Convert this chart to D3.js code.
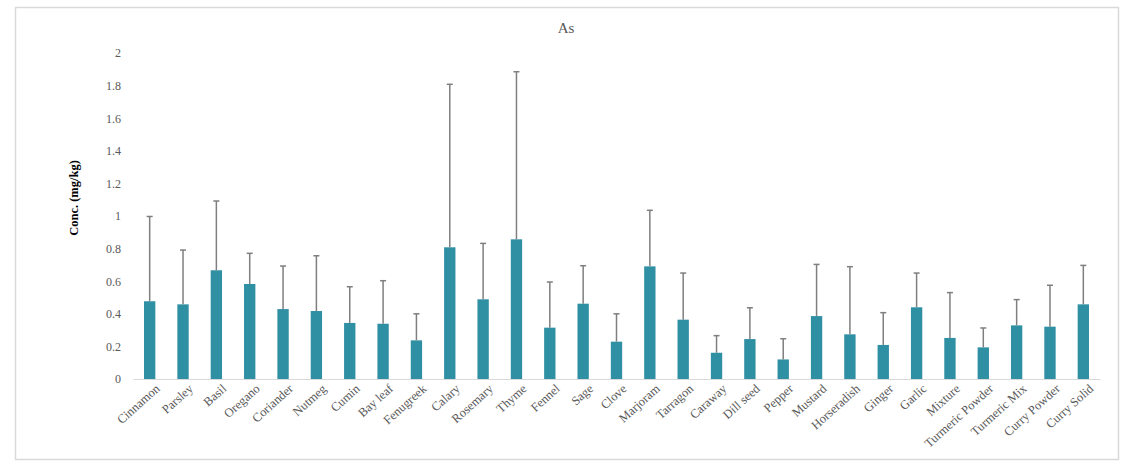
<!DOCTYPE html>
<html>
<head>
<meta charset="utf-8">
<script src="https://cdn.jsdelivr.net/npm/d3@7"></script>
<style>
  body { margin: 0; background: #fff; }
  svg { display: block; }
</style>
</head>
<body>
<div id="chart"></div>
<script>
const spices = ['Cinnamon', 'Parsley', 'Basil', 'Oregano', 'Coriander', 'Nutmeg', 'Cumin', 'Bay leaf',
  'Fenugreek', 'Calary', 'Rosemary', 'Thyme', 'Fennel', 'Sage', 'Clove', 'Marjoram', 'Tarragon',
  'Caraway', 'Dill seed', 'Pepper', 'Mustard', 'Horseradish', 'Ginger', 'Garlic', 'Mixture',
  'Turmeric Powder', 'Turmeric Mix', 'Curry Powder', 'Curry Solid'];
const means = [0.477, 0.458, 0.667, 0.583, 0.429, 0.417, 0.344, 0.339, 0.237, 0.808, 0.489, 0.857,
  0.315, 0.462, 0.229, 0.691, 0.364, 0.161, 0.245, 0.12, 0.386, 0.274, 0.209, 0.44, 0.252,
  0.194, 0.329, 0.321, 0.458];
// top of the error whisker
const upper = [0.997, 0.791, 1.092, 0.771, 0.693, 0.756, 0.566, 0.603, 0.40, 1.808, 0.832, 1.885,
  0.595, 0.695, 0.40, 1.035, 0.65, 0.266, 0.437, 0.247, 0.703, 0.689, 0.407, 0.65, 0.53,
  0.313, 0.487, 0.575, 0.697];
const yTicks = [0, 0.2, 0.4, 0.6, 0.8, 1, 1.2, 1.4, 1.6, 1.8, 2];

const w = 1138, h = 469;
const data = spices.map((s, i) => ({name: s, v: means[i], hi: upper[i]}));

const svg = d3.select('#chart').append('svg').attr('width', w).attr('height', h);

svg.append('rect').attr('x', 15.5).attr('y', 7.5).attr('width', 1103).attr('height', 452)
  .attr('fill', '#fff').attr('stroke', '#d9d9d9').attr('stroke-width', 1.5);

const xScale = d3.scaleBand().domain(spices).range([133, 1100]).paddingInner(0.66).paddingOuter(0.33);
const yScale = d3.scaleLinear().domain([0, 2]).range([379, 53]);

svg.append('text').attr('x', 566).attr('y', 33).attr('text-anchor', 'middle')
  .attr('font-family', 'Liberation Serif, serif').attr('font-size', 15).attr('fill', '#595959')
  .text('As');

const yAxis = d3.axisLeft(yScale).tickValues(yTicks).tickSize(0).tickPadding(12)
  .tickFormat(d => d3.format('~g')(d));
const gy = svg.append('g').attr('transform', 'translate(133,0)').call(yAxis);
gy.select('.domain').remove();
gy.selectAll('text').attr('font-family', 'Liberation Serif, serif').attr('font-size', 12).attr('fill', '#595959');

svg.append('text').attr('transform', 'translate(78,198) rotate(-90)').attr('text-anchor', 'middle')
  .attr('font-family', 'Liberation Serif, serif').attr('font-size', 12.5).attr('font-weight', 'bold')
  .attr('fill', '#000').text('Conc. (mg/kg)');

svg.selectAll('rect.bar').data(data).enter().append('rect').attr('class', 'bar')
  .attr('x', d => xScale(d.name)).attr('width', xScale.bandwidth())
  .attr('y', d => yScale(d.v)).attr('height', d => yScale(0) - yScale(d.v))
  .attr('fill', '#2f8fa3');

const xAxis = d3.axisBottom(xScale).tickSize(0).tickPadding(8);
const gx = svg.append('g').attr('transform', 'translate(0,379)').call(xAxis);
gx.select('.domain').attr('stroke', '#d9d9d9').attr('stroke-width', 1);
gx.selectAll('text').attr('font-family', 'Liberation Serif, serif').attr('font-size', 12.5).attr('fill', '#595959')
  .attr('text-anchor', 'end').attr('dy', '0.3em')
  .attr('transform', 'translate(3,2) rotate(-42)');

const err = svg.selectAll('g.err').data(data).enter().append('g').attr('class', 'err')
  .attr('stroke', '#7f7f7f').attr('stroke-width', 1.5);
err.append('line').attr('x1', d => xScale(d.name) + xScale.bandwidth() / 2)
  .attr('x2', d => xScale(d.name) + xScale.bandwidth() / 2)
  .attr('y1', d => yScale(d.v)).attr('y2', d => yScale(d.hi));
err.append('line').attr('x1', d => xScale(d.name) + xScale.bandwidth() / 2 - 3)
  .attr('x2', d => xScale(d.name) + xScale.bandwidth() / 2 + 3)
  .attr('y1', d => yScale(d.hi)).attr('y2', d => yScale(d.hi));
</script>
</body>
</html>
